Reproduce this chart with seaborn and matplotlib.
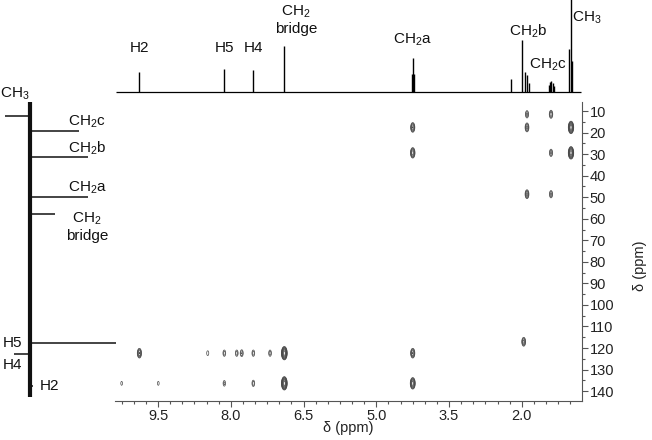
import numpy as np
import matplotlib
matplotlib.use("Agg")
import matplotlib.pyplot as plt
import seaborn as sns
from matplotlib.ticker import FixedLocator, MultipleLocator

# ---- 1H projection (top trace): line positions (ppm) and relative heights ----
h_shift = [9.884, 8.133, 7.535, 6.896,
           4.270, 4.248, 4.226,
           2.220,
           1.985, 1.940, 1.895, 1.855,
           1.440, 1.415, 1.390, 1.365, 1.340,
           1.025, 0.985, 0.962]
h_height = [0.20, 0.23, 0.22, 0.46,
            0.18, 0.34, 0.18,
            0.13,
            0.515, 0.20, 0.17, 0.09,
            0.07, 0.10, 0.11, 0.09, 0.06,
            0.43, 1.05, 0.31]

# ---- 13C projection (left trace): carbon shifts (ppm) and signed intensities ----
c_shift = [12.5, 19.4, 31.5, 50.0, 57.9, 117.7, 122.8, 137.7]
c_height = [-0.29, 0.57, 0.67, 0.67, 0.29, 1.00, -0.19, 0.035]

# ---- 2D correlation peaks: 1H shift, 13C shift, peak amplitude ----
cross_h = [1.892, 1.397,
           4.248, 1.892, 0.985,
           4.248, 1.397, 0.985,
           1.892, 1.397,
           1.960,
           9.884, 8.475, 8.133, 7.877, 7.774, 7.535, 7.190, 6.896, 4.248,
           10.25, 9.494, 8.133, 7.535, 6.896, 4.248]
cross_c = [11.5, 11.5,
           17.6, 17.6, 17.6,
           29.4, 29.4, 29.4,
           48.6, 48.6,
           117.1,
           122.4, 122.4, 122.4, 122.4, 122.4, 122.4, 122.4, 122.4, 122.4,
           136.4, 136.4, 136.4, 136.4, 136.4, 136.4]
cross_amp = [2.2, 2.6,
             4.0, 3.2, 10.0,
             5.0, 2.2, 10.0,
             3.2, 2.2,
             3.2,
             4.0, 1.4, 1.8, 1.8, 2.0, 1.8, 1.8, 14.0, 4.0,
             1.25, 1.25, 1.6, 1.8, 14.0, 7.0]

x_ticks = [9.5, 8.0, 6.5, 5.0, 3.5, 2.0]
y_ticks = list(range(10, 150, 10))

# ---- labels ----
top_labels = [("H2", 9.884, 0.44), ("H5", 8.133, 0.44), ("H4", 7.54, 0.44),
              ("CH$_2$\nbridge", 6.655, 0.72), ("CH$_2$a", 4.248, 0.52),
              ("CH$_2$b", 1.87, 0.61), ("CH$_2$c", 1.46, 0.27), ("CH$_3$", 0.655, 0.74)]
left_labels = [("CH$_3$", -0.174, 1.8), ("CH$_2$c", 0.663, 15.2), ("CH$_2$b", 0.663, 27.3),
               ("CH$_2$a", 0.663, 45.4), ("CH$_2$\nbridge", 0.663, 63.6),
               ("H5", -0.198, 117.7), ("H4", -0.198, 127.9), ("H2", 0.116, 137.7)]

sns.set_theme(style="white")
plt.rcParams["font.family"] = ["Liberation Sans", "DejaVu Sans"]
plt.rcParams["mathtext.fontset"] = "custom"
plt.rcParams["mathtext.rm"] = "Liberation Sans"
plt.rcParams["mathtext.it"] = "Liberation Sans:italic"
plt.rcParams["mathtext.bf"] = "Liberation Sans:bold"

W, H = 652, 440
fig = plt.figure(figsize=(W / 100, H / 100), dpi=100)


def box(l, t, r, b):
    return [l / W, 1 - b / H, (r - l) / W, (b - t) / H]


XLIM = (10.387, 0.758)
YLIM = (144.6, 5.8)

ax = fig.add_axes(box(115, 102, 582, 401))
ax_top = fig.add_axes(box(115, 0, 582, 96), sharex=ax)
ax_left = fig.add_axes(box(0, 102, 115, 401), sharey=ax)

# ---- 2D contour map ----
xg = np.linspace(0.6, 10.6, 2500)
yg = np.linspace(3.0, 147.0, 900)
sx, sy = 0.026, 1.35
Z = np.zeros((yg.size, xg.size))
for x0, y0, a in zip(cross_h, cross_c, cross_amp):
    gx = np.exp(-0.5 * ((xg - x0) / sx) ** 2)
    gy = np.exp(-0.5 * ((yg - y0) / sy) ** 2)
    Z += a * np.outer(gy, gx)
levels = 1.4 ** np.arange(0, 11)
ax.contour(xg, yg, Z, levels=levels, colors="#484848", linewidths=0.5)

ax.set_xlim(*XLIM)
ax.set_ylim(*YLIM)
for s in ("top", "left"):
    ax.spines[s].set_visible(False)
for s in ("bottom", "right"):
    ax.spines[s].set_color("#555555")
    ax.spines[s].set_linewidth(0.8)
ax.yaxis.tick_right()
ax.xaxis.set_major_locator(FixedLocator(x_ticks))
ax.xaxis.set_minor_locator(MultipleLocator(0.25))
ax.yaxis.set_major_locator(FixedLocator(y_ticks))
ax.yaxis.set_minor_locator(MultipleLocator(5))
ax.set_xticklabels([f"{v:.1f}" for v in x_ticks])
ax.set_yticklabels([str(v) for v in y_ticks])
ax.tick_params(axis="both", which="both", direction="out", color="#555555",
               labelsize=10.5, labelcolor="#222222", width=0.8)
ax.tick_params(axis="both", which="major", length=4, pad=1.5)
ax.tick_params(axis="both", which="minor", length=2.5)
ax.tick_params(axis="x", which="both", bottom=True)
ax.tick_params(axis="y", which="both", right=True, left=False)
ax.set_xlabel("δ (ppm)", fontsize=10.5, color="#222222")
ax.set_ylabel("δ (ppm)", fontsize=10.5, color="#222222")
ax.yaxis.set_label_position("right")
ax.xaxis.set_label_coords(0.499, -0.0903)
ax.yaxis.set_label_coords(1.124, 0.4515)
ax.xaxis.label.set_va("center")
ax.yaxis.label.set_va("center")
ax.yaxis.label.set_ha("center")

# ---- top 1H trace ----
ax_top.hlines(0, 10.37, 0.77, color="black", linewidth=0.9)
ax_top.vlines(h_shift, 0, h_height, color="black", linewidth=1.0, clip_on=False)
ax_top.set_ylim(-0.04, 0.92)
ax_top.axis("off")
for txt, xv, yv in top_labels:
    ax_top.text(xv, yv, txt, ha="center", va="center", fontsize=11,
                color="#111111", clip_on=False, linespacing=1.15)

# ---- left 13C trace ----
ax_left.vlines(0, 5.5, 142.8, color="#111111", linewidth=3.0)
ax_left.hlines(c_shift, 0, c_height, color="#111111", linewidth=1.1, clip_on=False)
ax_left.set_xlim(-0.349, 0.988)
ax_left.axis("off")
for txt, xv, yv in left_labels:
    ha = "left" if txt == "H2" else "center"
    ax_left.text(xv, yv, txt, ha=ha, va="center", fontsize=11,
                 color="#111111", clip_on=False, linespacing=1.15)

fig.savefig("out.png", dpi=100)
